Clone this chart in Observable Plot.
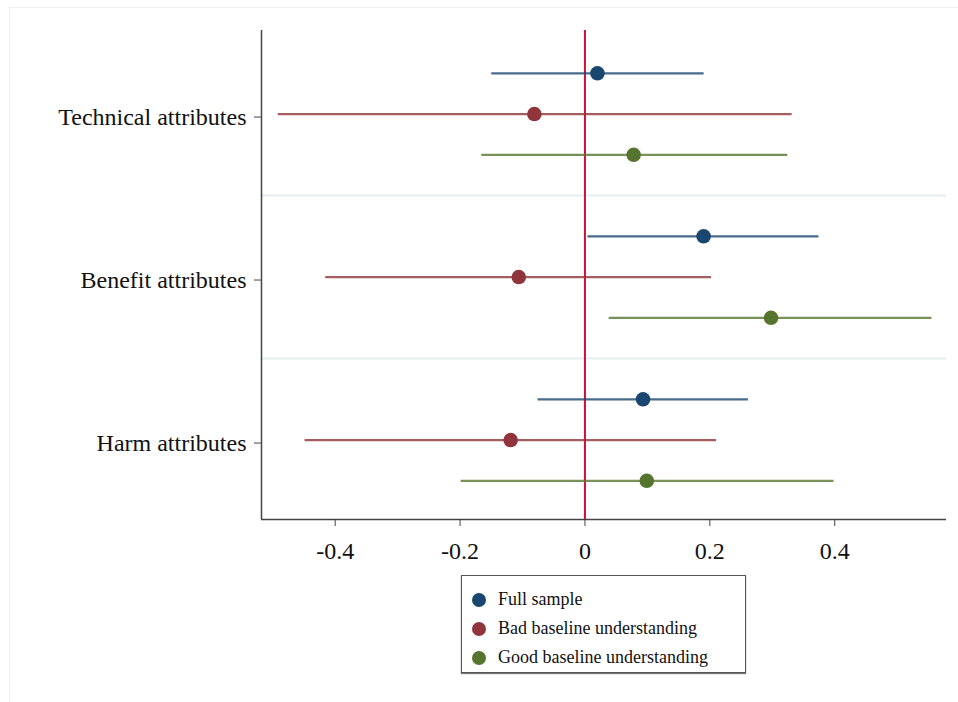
<!DOCTYPE html>
<html><head><meta charset="utf-8">
<script src="https://cdn.jsdelivr.net/npm/d3@7"></script>
<script src="https://cdn.jsdelivr.net/npm/@observablehq/plot@0.6"></script>
<style>
html,body{margin:0;padding:0;background:#fff;}
body{font-family:"Liberation Serif","Times New Roman",serif;width:958px;height:702px;position:relative;overflow:hidden;}
#frame{position:absolute;left:9px;top:7px;right:-2px;bottom:-2px;border:1px solid #efefef;}
#chart{position:absolute;left:0;top:0;}
#legend{position:absolute;left:461px;top:575px;width:285px;height:98px;box-sizing:border-box;border:1px solid #555;box-shadow:0 1px 1px #777;padding-top:9px;background:#fff;}
.row{display:flex;align-items:center;height:29px;font-size:18px;color:#111;}
.dot{width:14px;height:14px;border-radius:50%;margin-left:10px;margin-right:12px;}
</style>
</head><body>
<div id="frame"></div>
<div id="chart"></div>
<div id="legend"></div>
<script>
const categories = ["Technical attributes", "Benefit attributes", "Harm attributes"];
const series = ["Full sample", "Bad baseline understanding", "Good baseline understanding"];
const colors = ["#1a476f", "#90353b", "#55752f"];
// estimates and confidence bounds, one value per category
const estFull = [0.020, 0.190, 0.093];
const loFull  = [-0.150, 0.004, -0.076];
const hiFull  = [0.190, 0.374, 0.261];
const estBad  = [-0.081, -0.106, -0.119];
const loBad   = [-0.492, -0.416, -0.449];
const hiBad   = [0.331, 0.202, 0.210];
const estGood = [0.078, 0.298, 0.099];
const loGood  = [-0.166, 0.038, -0.199];
const hiGood  = [0.324, 0.555, 0.398];
const xTicks = [-0.4, -0.2, 0, 0.2, 0.4];
const xTickLabels = ["-0.4", "-0.2", "0", "0.2", "0.4"];

const est = [estFull, estBad, estGood], lo = [loFull, loBad, loGood], hi = [hiFull, hiBad, hiGood];
const rows = [];
categories.forEach((c, i) => series.forEach((s, j) => {
  rows.push({category: c, series: s, pos: 4 * i + (j - 1), est: est[j][i], lo: lo[j][i], hi: hi[j][i]});
}));
const seps = [2, 6];
const xDomain = [-0.518, 0.579];
const yDomain = [-2.05, 9.95];

const chart = Plot.plot({
  width: 958,
  height: 565,
  marginLeft: 261,
  marginRight: 12,
  marginTop: 30,
  marginBottom: 46,
  style: {fontFamily: '"Liberation Serif","Times New Roman",serif', background: "transparent", color: "#111"},
  x: {domain: xDomain},
  y: {domain: yDomain, reverse: true},
  color: {domain: series, range: colors},
  marks: [
    Plot.ruleY(seps, {x1: xDomain[0], x2: xDomain[1], stroke: "#e4eef0", strokeWidth: 2}),
    Plot.ruleX([0], {y1: yDomain[0], y2: yDomain[1], stroke: "#d0103a", strokeWidth: 2}),
    Plot.link(rows, {x1: "lo", x2: "hi", y1: "pos", y2: "pos", stroke: "series", strokeWidth: 2.2, strokeOpacity: 0.8}),
    Plot.dot(rows, {x: "est", y: "pos", fill: "series", r: 7.3, stroke: "none"}),
    Plot.ruleX([xDomain[0]], {y1: yDomain[0], y2: yDomain[1], stroke: "#444", strokeWidth: 1.5}),
    Plot.ruleY([yDomain[1]], {x1: xDomain[0], x2: xDomain[1], stroke: "#444", strokeWidth: 1.5}),
    Plot.axisX({ticks: xTicks, tickFormat: (d, i) => xTickLabels[i], tickSize: 7, tickPadding: 15, fontSize: 24, stroke: "#444", label: null}),
    Plot.axisY({ticks: [0, 4, 8], tickFormat: d => categories[d / 4], tickSize: 7, tickPadding: 8, fontSize: 24, stroke: "#444", label: null, dy: 3})
  ]
});
document.getElementById("chart").appendChild(chart);

const legend = document.getElementById("legend");
series.forEach((s, j) => {
  const row = document.createElement("div");
  row.className = "row";
  const dot = document.createElement("span");
  dot.className = "dot";
  dot.style.background = colors[j];
  const t = document.createElement("span");
  t.textContent = s;
  row.appendChild(dot); row.appendChild(t);
  legend.appendChild(row);
});
</script>
</body></html>
